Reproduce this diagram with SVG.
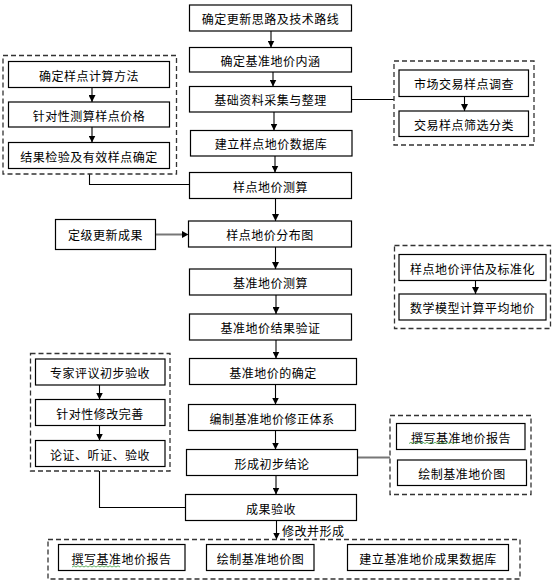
<svg xmlns="http://www.w3.org/2000/svg" width="556" height="583" viewBox="0 0 556 583">
<defs>
<marker id="ah" markerUnits="userSpaceOnUse" markerWidth="7" markerHeight="7" refX="7" refY="3.5" orient="auto">
<path d="M0,0 L7,3.5 L0,7 z" fill="#000"/>
</marker>
<marker id="ahg" markerUnits="userSpaceOnUse" markerWidth="7" markerHeight="7" refX="7" refY="3.5" orient="auto">
<path d="M0,0 L7,3.5 L0,7 z" fill="#000"/>
</marker>
<style>
.b{fill:#fff;stroke:#000;stroke-width:1.2}
.g{fill:none;stroke:#333;stroke-width:1.3;stroke-dasharray:5 3}
.t{font-family:"Noto Sans CJK SC","Noto Sans",sans-serif;font-size:12px;letter-spacing:0.5px;fill:#000;text-anchor:middle;dominant-baseline:central}
.c{fill:none;stroke:#000;stroke-width:1.1}
.a{fill:none;stroke:#000;stroke-width:1.1;marker-end:url(#ah)}
.gr{fill:none;stroke:#777;stroke-width:2}
.sq{fill:none;stroke:#3a9a3a;stroke-width:0.8}
</style>
</defs>
<rect width="556" height="583" fill="#fff"/>

<g id="connectors">
<line class="a" x1="271" y1="31" x2="271" y2="47.5"/>
<line class="a" x1="273" y1="72" x2="273" y2="86.5"/>
<line class="a" x1="274" y1="112" x2="274" y2="130.5"/>
<line class="a" x1="275" y1="156" x2="275" y2="172.5"/>
<line class="a" x1="275.5" y1="198.5" x2="275.5" y2="221"/>
<line class="a" x1="275.5" y1="247" x2="275.5" y2="269"/>
<line class="a" x1="276" y1="295" x2="276" y2="314"/>
<line class="a" x1="276" y1="340" x2="276" y2="358.5"/>
<line class="a" x1="275.5" y1="384.5" x2="275.5" y2="404.5"/>
<line class="a" x1="275.5" y1="430.5" x2="275.5" y2="449.5"/>
<line class="a" x1="276" y1="475.5" x2="276" y2="494.5"/>
<line class="a" x1="276.5" y1="520.5" x2="276.5" y2="539.5"/>
<polyline class="c" points="89.5,174 89.5,184.5 189.5,184.5"/>
<line class="c" x1="351.5" y1="99.5" x2="394" y2="99.5"/>
<line class="gr" x1="155.5" y1="234.5" x2="182" y2="234.5"/>
<path d="M182,231 L188.5,234.5 L182,238 z" fill="#000"/>
<polyline class="c" points="99.5,471 99.5,507.5 185.5,507.5"/>
<line class="gr" x1="357.5" y1="457.5" x2="390" y2="457.5"/>
<line class="a" x1="92" y1="87.5" x2="92" y2="102"/>
<line class="a" x1="92" y1="127" x2="92" y2="142.5"/>
<line class="a" x1="464.5" y1="96.5" x2="464.5" y2="111"/>
<line class="a" x1="475.5" y1="280.5" x2="475.5" y2="294"/>
<line class="a" x1="99.5" y1="385" x2="99.5" y2="399.5"/>
<line class="a" x1="99.5" y1="425.5" x2="99.5" y2="440.5"/>
<text class="t" x="282" y="530" style="text-anchor:start">修改并形成</text>
</g>

<g id="group-left1">
<rect class="g" x="3" y="55.5" width="173.5" height="118.5"/>
</g>
<g id="group-right1">
<rect class="g" x="394" y="61" width="140" height="84"/>
</g>
<g id="group-right2">
<rect class="g" x="394.5" y="245.5" width="156" height="83"/>
</g>
<g id="group-left2">
<rect class="g" x="30.5" y="353.5" width="139.5" height="117.5"/>
</g>
<g id="group-right3">
<rect class="g" x="390" y="415.5" width="141" height="79"/>
</g>
<g id="group-bottom">
<rect class="g" x="48" y="539.5" width="472" height="39.5"/>
</g>

<g id="n1"><rect class="b" x="189.5" y="5" width="162" height="26"/><text class="t" x="270.5" y="18">确定更新思路及技术路线</text></g>
<g id="n2"><rect class="b" x="189.5" y="47.5" width="162" height="24.5"/><text class="t" x="270.5" y="60">确定基准地价内涵</text></g>
<g id="n3"><rect class="b" x="189.5" y="86.5" width="162" height="25.5"/><text class="t" x="270.5" y="99.5">基础资料采集与整理</text></g>
<g id="n4"><rect class="b" x="190.5" y="130.5" width="161.5" height="25.5"/><text class="t" x="271" y="143.5">建立样点地价数据库</text></g>
<g id="n5"><rect class="b" x="189.5" y="172.5" width="162" height="26"/><text class="t" x="270.5" y="186">样点地价测算</text></g>
<g id="n6"><rect class="b" x="188.5" y="221" width="163" height="26"/><text class="t" x="270" y="234.5">样点地价分布图</text></g>
<g id="n7"><rect class="b" x="189.5" y="269" width="162" height="26"/><text class="t" x="270.5" y="282.5">基准地价测算</text></g>
<g id="n8"><rect class="b" x="189.5" y="314" width="162" height="26"/><text class="t" x="270.5" y="327.5">基准地价结果验证</text></g>
<g id="n9"><rect class="b" x="189.5" y="358.5" width="167" height="26"/><text class="t" x="273" y="372">基准地价的确定</text></g>
<g id="n10"><rect class="b" x="188.5" y="404.5" width="167" height="26"/><text class="t" x="272" y="418">编制基准地价修正体系</text></g>
<g id="n11"><rect class="b" x="186.5" y="449.5" width="171" height="26"/><text class="t" x="272" y="463">形成初步结论</text></g>
<g id="n12"><rect class="b" x="185.5" y="494.5" width="171" height="26"/><text class="t" x="271" y="508">成果验收</text></g>

<g id="n13"><rect class="b" x="55.5" y="219.5" width="100" height="30"/><text class="t" x="105.5" y="234">定级更新成果</text></g>

<g id="l1a"><rect class="b" x="8.5" y="61.5" width="161" height="26"/><text class="t" x="89" y="75">确定样点计算方法</text></g>
<g id="l1b"><rect class="b" x="8.5" y="102" width="161" height="25"/><text class="t" x="89" y="115">针对性测算样点价格</text></g>
<g id="l1c"><rect class="b" x="8.5" y="142.5" width="161" height="26"/><text class="t" x="89" y="156">结果检验及有效样点确定</text></g>

<g id="r1a"><rect class="b" x="399" y="70" width="129.5" height="26.5"/><text class="t" x="464" y="83.5">市场交易样点调查</text></g>
<g id="r1b"><rect class="b" x="399" y="111" width="129.5" height="25.5"/><text class="t" x="464" y="124">交易样点筛选分类</text></g>

<g id="r2a"><rect class="b" x="399" y="254.5" width="147" height="26"/><text class="t" x="472.5" y="268">样点地价评估及标准化</text></g>
<g id="r2b"><rect class="b" x="399" y="294" width="147" height="26"/><text class="t" x="472.5" y="307.5">数学模型计算平均地价</text></g>

<g id="l2a"><rect class="b" x="35.5" y="359" width="129.5" height="26"/><text class="t" x="100" y="372.5">专家评议初步验收</text></g>
<g id="l2b"><rect class="b" x="35.5" y="399.5" width="129.5" height="26"/><text class="t" x="100" y="413">针对性修改完善</text></g>
<g id="l2c"><rect class="b" x="35.5" y="440.5" width="129.5" height="26"/><text class="t" x="100" y="454">论证、听证、验收</text></g>

<g id="r3a"><rect class="b" x="396.5" y="423.5" width="128.5" height="26"/><text class="t" x="461" y="437">撰写基准地价报告</text>
<path class="sq" d="M409,443.5 l2,-1.2 l2,1.2 l2,-1.2 l2,1.2 l2,-1.2 l2,1.2 l2,-1.2 l2,1.2 l2,-1.2 l2,1.2 l2,-1.2 l2,1.2 l2,-1.2 l2,1.2 l2,-1.2 l2,1.2 l2,-1.2 l2,1.2 l2,-1.2 l2,1.2 l2,-1.2 l2,1.2 l2,-1.2 l2,1.2"/></g>
<g id="r3b"><rect class="b" x="397.5" y="460" width="129" height="25.5"/><text class="t" x="462" y="473">绘制基准地价图</text></g>

<g id="b1"><rect class="b" x="58.5" y="544.5" width="126.5" height="26"/><text class="t" x="121.5" y="558">撰写基准地价报告</text>
<path class="sq" d="M72,567 l2,-1.2 l2,1.2 l2,-1.2 l2,1.2 l2,-1.2 l2,1.2 l2,-1.2 l2,1.2 l2,-1.2 l2,1.2 l2,-1.2 l2,1.2 l2,-1.2 l2,1.2 l2,-1.2 l2,1.2 l2,-1.2 l2,1.2 l2,-1.2 l2,1.2 l2,-1.2 l2,1.2 l2,-1.2 l2,1.2"/></g>
<g id="b2"><rect class="b" x="206.5" y="544.5" width="107.5" height="26"/><text class="t" x="260.5" y="558">绘制基准地价图</text></g>
<g id="b3"><rect class="b" x="347.5" y="544.5" width="161" height="26"/><text class="t" x="428" y="558">建立基准地价成果数据库</text></g>
</svg>
